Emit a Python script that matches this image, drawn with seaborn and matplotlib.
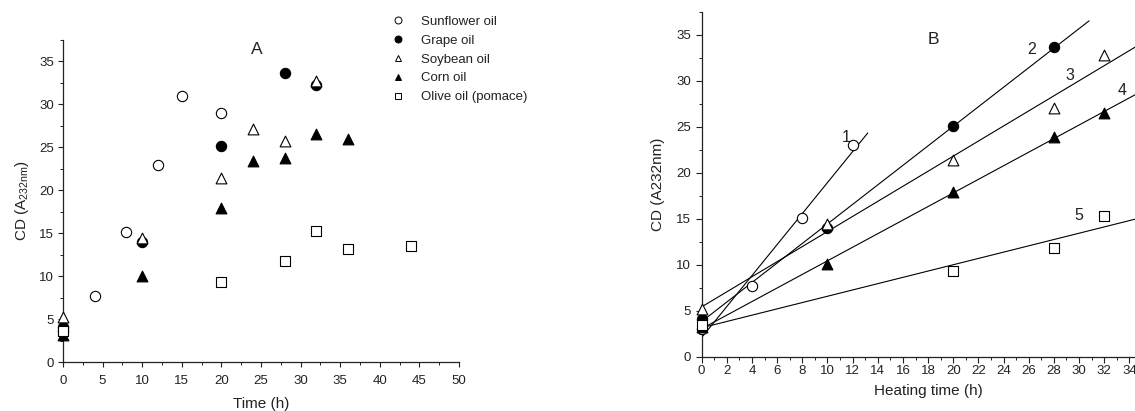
import numpy as np
import pandas as pd
import matplotlib
matplotlib.use("Agg")
import matplotlib.pyplot as plt
from matplotlib.ticker import MultipleLocator
from matplotlib.lines import Line2D
import seaborn as sns

sns.set_theme(style="ticks")
plt.rcParams['font.family'] = ['Liberation Sans', 'DejaVu Sans']

# ---------------- data: panel A ----------------
series_names = ["Sunflower oil", "Grape oil", "Soybean oil", "Corn oil", "Olive oil (pomace)"]

t_sun_A = [0, 4, 8, 12, 15, 20]
cd_sun_A = [3.6, 7.7, 15.1, 23.0, 31.0, 29.0]
t_grape_A = [0, 10, 20, 28, 32]
cd_grape_A = [4.1, 14.0, 25.1, 33.7, 32.3]
t_soy_A = [0, 10, 20, 24, 28, 32]
cd_soy_A = [5.2, 14.4, 21.4, 27.1, 25.7, 32.7]
t_corn_A = [0, 10, 20, 24, 28, 32, 36]
cd_corn_A = [3.2, 10.0, 17.9, 23.4, 23.8, 26.6, 26.0]
t_olive_A = [0, 20, 28, 32, 36, 44]
cd_olive_A = [3.6, 9.3, 11.8, 15.3, 13.2, 13.5]

# ---------------- data: panel B ----------------
t_sun_B = [0, 4, 8, 12]
cd_sun_B = [3.0, 7.7, 15.1, 23.0]
t_grape_B = [0, 10, 20, 28]
cd_grape_B = [4.1, 14.0, 25.1, 33.7]
t_soy_B = [0, 10, 20, 28, 32]
cd_soy_B = [5.2, 14.4, 21.4, 27.1, 32.8]
t_corn_B = [0, 10, 20, 28, 32]
cd_corn_B = [3.2, 10.1, 17.95, 23.9, 26.55]
t_olive_B = [0, 20, 28, 32]
cd_olive_B = [3.5, 9.36, 11.86, 15.3]
line_labels = ["1", "2", "3", "4", "5"]

# ---------------- styles ----------------
markers = ["o", "o", "^", "^", "s"]
faces = ["white", "black", "white", "black", "white"]
sizes = [55, 55, 60, 60, 45]
line_ends = [13.2, 30.8, 36, 36, 36]
label_pos = [(11.5, 23.9), (26.2, 33.4), (29.3, 30.6), (33.4, 29.0), (30.0, 15.4)]
INK = "#222222"

fig = plt.figure(figsize=(11.35, 4.11), dpi=100)
axA = fig.add_axes([0.0555, 0.1192, 0.3489, 0.7835])
axB = fig.add_axes([0.6182, 0.1321, 0.3990, 0.8387])

A_sets = [(t_sun_A, cd_sun_A), (t_grape_A, cd_grape_A), (t_soy_A, cd_soy_A),
          (t_corn_A, cd_corn_A), (t_olive_A, cd_olive_A)]
B_sets = [(t_sun_B, cd_sun_B), (t_grape_B, cd_grape_B), (t_soy_B, cd_soy_B),
          (t_corn_B, cd_corn_B), (t_olive_B, cd_olive_B)]

for i, (t, cd) in enumerate(A_sets):
    sns.scatterplot(x=t, y=cd, ax=axA, marker=markers[i], color=faces[i],
                    edgecolor="black", linewidth=0.8, s=sizes[i], zorder=3,
                    clip_on=False, legend=False)

for i, (t, cd) in enumerate(B_sets):
    slope, icpt = np.polyfit(t, cd, 1)
    xs = np.array([0, line_ends[i]])
    sns.lineplot(x=xs, y=icpt + slope * xs, ax=axB, color="black", linewidth=0.8,
                 zorder=2, legend=False)
    sns.scatterplot(x=t, y=cd, ax=axB, marker=markers[i], color=faces[i],
                    edgecolor="black", linewidth=0.8, s=sizes[i], zorder=3,
                    clip_on=False, legend=False)
    axB.text(label_pos[i][0], label_pos[i][1], line_labels[i], fontsize=11.5,
             ha="center", va="center", color=INK)

for ax in (axA, axB):
    ax.set_ylim(0, 37.5)
    ax.yaxis.set_major_locator(MultipleLocator(5))
    ax.yaxis.set_minor_locator(MultipleLocator(2.5))
    for s in ("top", "right"):
        ax.spines[s].set_visible(False)
    for s in ("left", "bottom"):
        ax.spines[s].set_linewidth(0.9)
        ax.spines[s].set_color(INK)
    ax.tick_params(which="major", width=0.8, labelsize=9.5, colors=INK)
    ax.tick_params(which="minor", width=0.7, colors=INK)
    ax.set_facecolor("none")

# panel A ticks
axA.tick_params(axis="both", which="major", length=3.5)
axA.tick_params(axis="both", which="minor", length=2)
axA.tick_params(axis="x", which="major", pad=6)
axA.tick_params(axis="y", which="major", pad=3)
# panel B ticks
axB.tick_params(axis="both", which="major", length=4.5)
axB.tick_params(axis="both", which="minor", length=2.5)
axB.tick_params(axis="x", which="major", pad=1.5)
axB.tick_params(axis="y", which="major", pad=3)

axA.set_xlim(0, 50)
axA.xaxis.set_major_locator(MultipleLocator(5))
axA.xaxis.set_minor_locator(MultipleLocator(2.5))
axA.set_xlabel("Time (h)", fontsize=11, color=INK, labelpad=7)
axA.set_ylabel("CD (A$_\\mathregular{232nm}$)", fontsize=11, color=INK, labelpad=6)
axA.text(24.5, 36.4, "A", fontsize=12.5, ha="center", va="center", color=INK)

axB.set_xlim(0, 36)
axB.xaxis.set_major_locator(MultipleLocator(2))
axB.xaxis.set_minor_locator(MultipleLocator(1))
axB.set_xlabel("Heating time (h)", fontsize=11, color=INK, labelpad=5)
axB.set_ylabel("CD (A232nm)", fontsize=11, color=INK, labelpad=8)
axB.text(18.4, 34.5, "B", fontsize=12.5, ha="center", va="center", color=INK)

handles = [Line2D([], [], linestyle="none", marker=markers[i], markerfacecolor=faces[i],
                  markeredgecolor="black", markeredgewidth=0.7, markersize=5)
           for i in range(5)]
fig.legend(handles, series_names, loc="upper left", bbox_to_anchor=(0.3448, 0.962),
           frameon=False, fontsize=9.5, handletextpad=1.24, labelspacing=0.5,
           handlelength=1.0, borderpad=0, borderaxespad=0, labelcolor=INK)

fig.savefig("out.png", dpi=100)
